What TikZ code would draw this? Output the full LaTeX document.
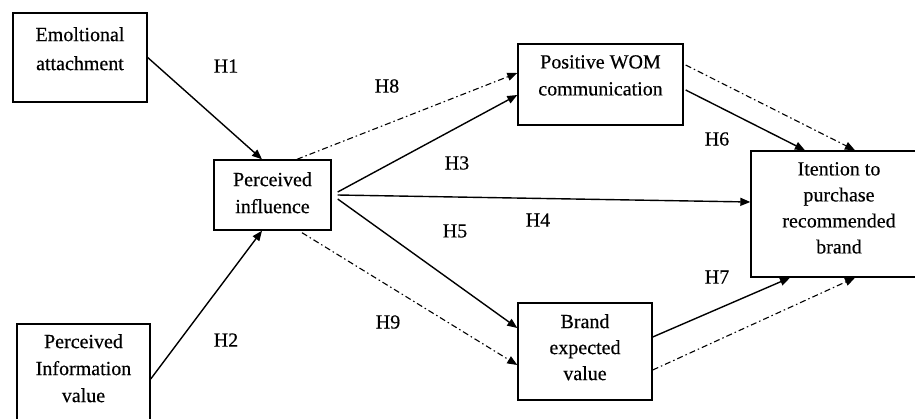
\documentclass[tikz,border=0pt]{standalone}
\usepackage{fontspec}
\setmainfont{Liberation Serif}[FakeBold=0.4]
\usetikzlibrary{arrows.meta}

\begin{document}
\begin{tikzpicture}[x=1pt,y=-1pt,
  every node/.style={font=\fontsize{20}{27}\selectfont},
  box/.style={draw,line width=1.4pt,inner sep=0pt},
  txt/.style={align=center,inner sep=0pt,anchor=north},
  hlab/.style={inner sep=0pt},
  tip/.style={-{Triangle[length=10pt,width=8pt]}},
  link/.style={tip,line width=1.4pt},
  dlink/.style={tip,line width=1.1pt,dash pattern=on 6pt off 3pt on 1.5pt off 3pt}]

\clip (0,0) rectangle (915,418);
\fill[white] (0,0) rectangle (915,418);

% construct boxes
\node[box,minimum width=134pt,minimum height=89pt]  (emo)   at (80,57.5)   {};
\node[box,minimum width=133pt,minimum height=110pt] (piv)   at (83.5,379)  {};
\node[box,minimum width=117pt,minimum height=70pt]  (pi)    at (272.5,195) {};
\node[box,minimum width=165pt,minimum height=81pt]  (wom)   at (600.5,84.5){};
\node[box,minimum width=176pt,minimum height=126pt] (int)   at (839,214)   {};
\node[box,minimum width=134pt,minimum height=97pt]  (brand) at (585,351.5) {};

% box captions
\node[txt] (emoT)   at (80,27)    {Emoltional\\[2pt]attachment};
\node[txt] (pivT)   at (83.5,334) {Perceived\\Information\\value};
\node[txt] (piT)    at (272.5,172){Perceived\\influence};
\node[txt] (womT)   at (600.5,55) {Positive WOM\\communication};
\node[txt] (intT)   at (839,162)  {Itention to\\[-1pt]purchase\\[-1pt]recommended\\[-1pt]brand};
\node[txt] (brandT) at (585,314)  {Brand\\[-1pt]expected\\[-1pt]value};

% hypothesis paths
\draw[link]  (emo.east) -- ([xshift=-10.5pt]pi.north);
\draw[link]  (piv.east) -- ([xshift=-10.5pt]pi.south);
\draw[dlink] ([xshift=24.5pt]pi.north) -- ([yshift=11.5pt]wom.west);
\draw[link]  ([xshift=6pt,yshift=3pt]pi.east) -- ([yshift=-10.5pt]wom.west);
\draw[link]  ([xshift=6pt]pi.east) -- ([yshift=12pt]int.west);
\draw[link]  ([xshift=6pt,yshift=-4pt]pi.east) -- ([yshift=23.5pt]brand.west);
\draw[dlink] ([xshift=29.5pt,yshift=-2pt]pi.south) -- ([yshift=-13.5pt]brand.west);
\draw[link]  ([xshift=2pt,yshift=-5.5pt]wom.east) -- ([xshift=-34pt]int.north);
\draw[dlink] ([xshift=2pt,yshift=19.5pt]wom.east) -- ([xshift=16pt]int.north);
\draw[link]  ([yshift=14.5pt]brand.east) -- ([xshift=-49pt]int.south);
\draw[dlink] ([yshift=-18.5pt]brand.east) -- ([xshift=16pt]int.south);

% hypothesis labels
\node[hlab] (h1) at (226,66)  {H1};
\node[hlab] (h2) at (226,340) {H2};
\node[hlab] (h8) at (387,86)  {H8};
\node[hlab] (h3) at (457,163) {H3};
\node[hlab] (h4) at (538,220) {H4};
\node[hlab] (h5) at (455,231) {H5};
\node[hlab] (h9) at (388,322) {H9};
\node[hlab] (h6) at (717,139) {H6};
\node[hlab] (h7) at (717,277) {H7};
\end{tikzpicture}
\end{document}
